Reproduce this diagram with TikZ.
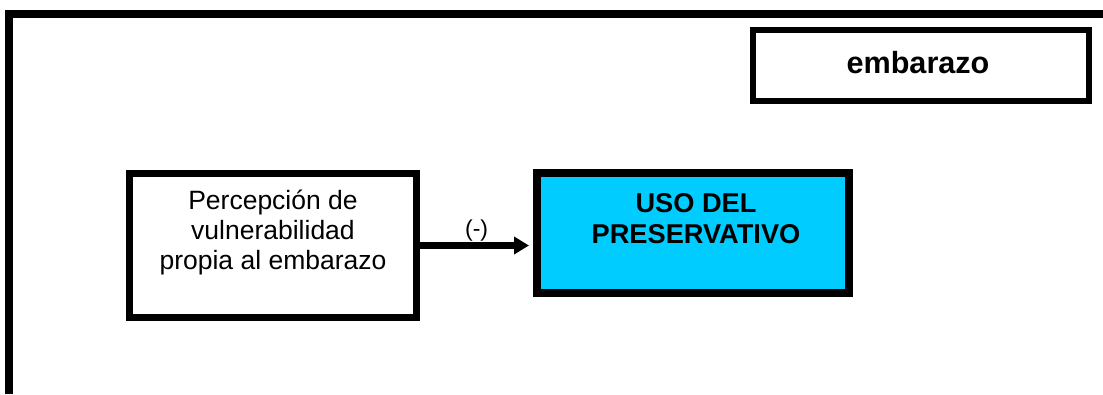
\documentclass[tikz,border=0pt]{standalone}
\usepackage{fontspec}
\setmainfont{Liberation Sans}
\usetikzlibrary{arrows.meta}
\definecolor{cyanbox}{RGB}{0,204,255}
\begin{document}
\begin{tikzpicture}[x=1pt,y=-1pt,
  box/.style={draw=black, rectangle, inner sep=0pt},
  bodytext/.style={align=center, inner sep=0pt, font=\fontsize{26.5}{30}\selectfont},
  boldtext/.style={align=center, inner sep=0pt, font=\bfseries\fontsize{27.2}{31}\selectfont},
  arrowline/.style={line width=6.5pt, -{Triangle[length=15pt,width=17pt]}, shorten >=4pt}]
\useasboundingbox (0,0) rectangle (1103,394);
% outer frame
\draw[line width=7.7pt, line join=miter] (9,394) -- (9,14) -- (1103,14);
% embarazo box
\node[box, line width=6pt, minimum width=336pt, minimum height=70.5pt] (emb) at (921,65.25) {};
\node[inner sep=0pt, anchor=base, font=\bfseries\fontsize{30.6}{36}\selectfont] (embtext) at (918,73) {embarazo};
% left box
\node[box, line width=7pt, minimum width=287.5pt, minimum height=144pt] (pv) at (273,245.5) {};
\node[bodytext, anchor=base] (pvtext) at (273,269) {Percepción de\\vulnerabilidad\\propia al embarazo};
% blue box
\node[box, fill=cyanbox, line width=8pt, minimum width=312pt, minimum height=120pt] (uso) at (693,233) {};
\node[boldtext, anchor=base] (usotext) at (696,243) {USO DEL\\PRESERVATIVO};
% arrow
\draw[arrowline] (pv.east) -- (pv.east -| uso.west)
  node[midway, above, inner sep=1pt, font=\fontsize{23}{27}\selectfont] (neg) {(-)};
\end{tikzpicture}
\end{document}
